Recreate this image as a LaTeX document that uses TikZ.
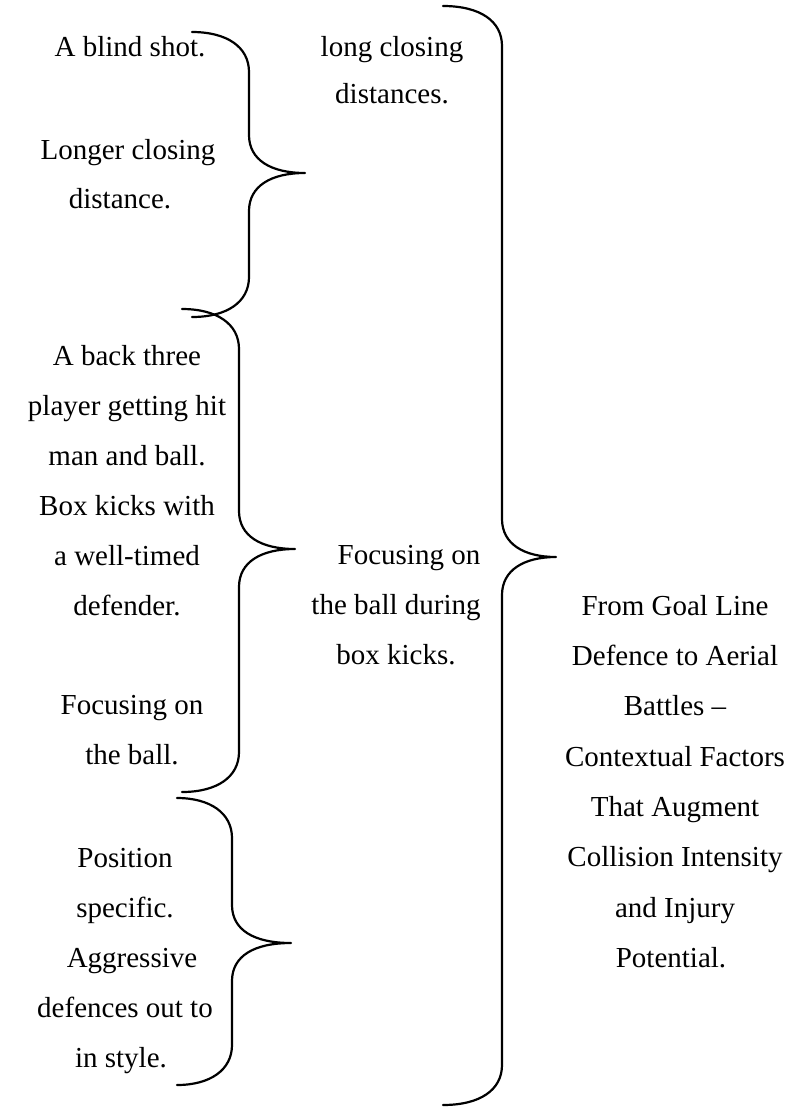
\documentclass[tikz,border=0pt]{standalone}
\usepackage{fontspec}
\setmainfont{Liberation Serif}

% A curly brace opening to the left and pointing right:
% #1 x of the two ends, #2 x of the stem, #3 x of the tip,
% #4 y of the top end, #5 y of the tip, #6 y of the bottom end.
\newcommand\drawcurly[6]{%
  \draw[bracestroke] (#1,#4)
    .. controls ({#2-22},{#4}) and (#2,{#4+15}) .. (#2,{#4+40})
    -- (#2,{#5-38})
    .. controls (#2,{#5-13}) and ({#2+22},#5) .. (#3,#5)
    .. controls ({#2+22},#5) and (#2,{#5+13}) .. (#2,{#5+38})
    -- (#2,{#6-40})
    .. controls (#2,{#6-15}) and ({#2-22},#6) .. (#1,#6);}

\tikzset{
  bracestroke/.style={line width=2.2pt, line cap=round, line join=round},
  txt/.style={align=center, inner sep=0pt, anchor=north},
  rows/.style={font=\fontsize{29}{#1}\selectfont},
}

\begin{document}
\begin{tikzpicture}[x=1pt, y=-1pt]
  \useasboundingbox (0,0) rectangle (803,1109);

  % left column
  \node[txt, rows=49] (blind) at (130,36) {A blind shot.};
  \node[txt, rows=49] (longer) at (128,139)
    {Longer closing\\distance.\hspace*{16pt}};
  \node[txt, rows=50] (backthree) at (127,345)
    {A back three\\player getting hit\\man and ball.\\Box kicks with\\a well-timed\hspace*{12pt}\\defender.};
  \node[txt, rows=50] (focusleft) at (132,695) {Focusing on\\the ball.};
  \node[txt, rows=50] (position) at (125,848)
    {Position\\specific.\\\hspace*{14pt}Aggressive\\defences out to\\in style.\hspace*{8pt}};

  % middle column
  \node[txt, rows=47] (longclosing) at (392,36) {long closing\\distances.};
  \node[txt, rows=50] (focusmid) at (396,545)
    {\hspace*{26pt}Focusing on\\the ball during\\box kicks.};

  % right column
  \node[txt, rows=50.3] (title) at (675,595)
    {From Goal Line\\Defence to Aerial\\Battles --\hspace*{16pt}\\Contextual Factors\\That Augment\hspace*{10pt}\\Collision Intensity\\and Injury\\Potential.\hspace*{8pt}};

  % braces
  \drawcurly{192}{249}{305}{32}{173}{317}
  \drawcurly{182}{239}{295}{309}{549}{792}
  \drawcurly{177}{232}{291}{798}{943}{1085}
  \drawcurly{443}{502}{556}{6}{557}{1105}
\end{tikzpicture}
\end{document}
